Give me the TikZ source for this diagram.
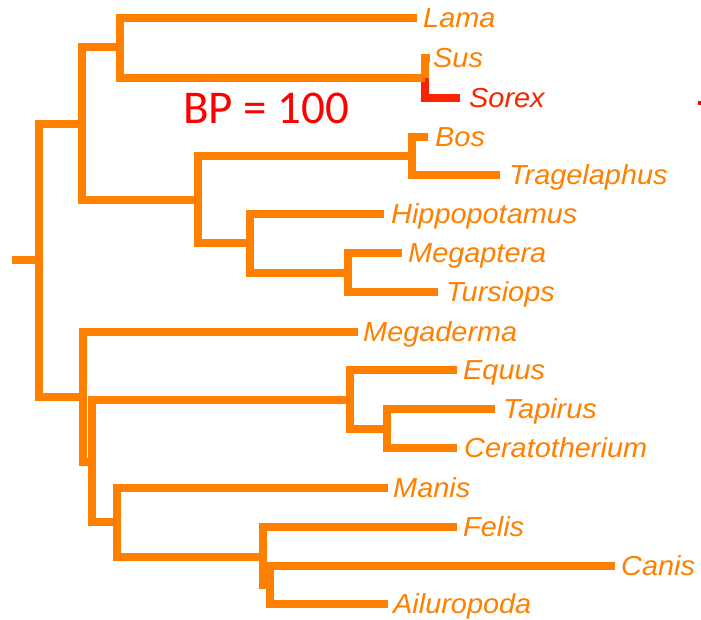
\documentclass[tikz,border=0pt]{standalone}
\usepackage{fontspec}
\setmainfont{Liberation Sans}
\newfontfamily\taxfont[FakeStretch=1.05]{Liberation Sans}
\newfontfamily\bpfont{Carlito}
\definecolor{treeor}{RGB}{255,127,0}
\definecolor{sorexred}{RGB}{250,35,0}
\definecolor{bpred}{RGB}{255,0,0}
\begin{document}
\begin{tikzpicture}[x=1pt,y=-1pt,
  branch/.style={draw=treeor, line width=8pt, line join=miter},
  redbranch/.style={branch, draw=sorexred},
  taxon/.style={font=\taxfont\fontsize{27.5}{28}\selectfont\itshape, text=treeor, anchor=west,
    inner sep=0pt, text height=19.7pt, text depth=0pt},
  redtaxon/.style={taxon, text=sorexred}]
\useasboundingbox (0,0) rectangle (701,619);
% internal nodes
\coordinate (stub) at (12,260);
\coordinate (root) at (39,260);
\coordinate (A) at (82,124);
\coordinate (B) at (120,47);
\coordinate (SS) at (425,78);
\coordinate (C) at (198,200);
\coordinate (D) at (412,156);
\coordinate (E) at (250,243);
\coordinate (F) at (348,273);
\coordinate (G) at (83,397);
\coordinate (H) at (92,462);
\coordinate (I) at (350,400);
\coordinate (K) at (387,429);
\coordinate (J) at (117,522);
\coordinate (L) at (263,557);
\coordinate (M) at (270,585);
% tips
\coordinate (lama) at (417,18);
\coordinate (sus) at (430,58);
\coordinate (sorex) at (460,98);
\coordinate (bos) at (428,137);
\coordinate (trag) at (500,175);
\coordinate (hippo) at (384,214);
\coordinate (megap) at (402,253);
\coordinate (turs) at (438,292);
\coordinate (megad) at (358,332);
\coordinate (equus) at (457,370);
\coordinate (tapir) at (495,409);
\coordinate (cerat) at (457,448);
\coordinate (manis) at (388,488);
\coordinate (felis) at (457,527);
\coordinate (canis) at (615,566);
\coordinate (ailur) at (388,604);
% branches
\draw[redbranch] (SS) |- (sorex);
\draw[branch] (stub) -- (root);
\draw[branch] (root) |- (A);
\draw[branch] (root) |- (G);
\draw[branch] (A) |- (B);
\draw[branch] (A) |- (C);
\draw[branch] (B) |- (lama);
\draw[branch] (B) |- (SS);
\draw[branch] (SS) |- (sus);
\draw[branch] (C) |- (D);
\draw[branch] (C) |- (E);
\draw[branch] (D) |- (bos);
\draw[branch] (D) |- (trag);
\draw[branch] (E) |- (hippo);
\draw[branch] (E) |- (F);
\draw[branch] (F) |- (megap);
\draw[branch] (F) |- (turs);
\draw[branch] (G) |- (megad);
\draw[branch] (G) |- (H);
\draw[branch] (H) |- (I);
\draw[branch] (H) |- (J);
\draw[branch] (I) |- (equus);
\draw[branch] (I) |- (K);
\draw[branch] (K) |- (tapir);
\draw[branch] (K) |- (cerat);
\draw[branch] (J) |- (manis);
\draw[branch] (J) |- (L);
\draw[branch] (L) |- (felis);
\draw[branch] (L) |- (M);
\draw[branch] (M) |- (canis);
\draw[branch] (M) |- (ailur);
% labels
\node[taxon, xshift=6pt] (lamaL) at (lama) {Lama};
\node[taxon, xshift=3pt] (susL) at (sus) {Sus};
\node[redtaxon, xshift=9pt] (sorexL) at (sorex) {Sorex};
\node[taxon, xshift=7pt] (bosL) at (bos) {Bos};
\node[taxon, xshift=9pt] (tragL) at (trag) {Tragelaphus};
\node[taxon, xshift=7pt] (hippoL) at (hippo) {Hippopotamus};
\node[taxon, xshift=6pt] (megapL) at (megap) {Megaptera};
\node[taxon, xshift=8pt] (tursL) at (turs) {Tursiops};
\node[taxon, xshift=5pt] (megadL) at (megad) {Megaderma};
\node[taxon, xshift=6pt] (equusL) at (equus) {Equus};
\node[taxon, xshift=8pt] (tapirL) at (tapir) {Tapirus};
\node[taxon, xshift=7pt] (ceratL) at (cerat) {Ceratotherium};
\node[taxon, xshift=5pt] (manisL) at (manis) {Manis};
\node[taxon, xshift=6pt] (felisL) at (felis) {Felis};
\node[taxon, xshift=6pt] (canisL) at (canis) {Canis};
\node[taxon, xshift=5pt] (ailurL) at (ailur) {Ailuropoda};
\node[anchor=base west, inner sep=0pt, text=bpred, font=\bpfont\fontsize{47}{47}\selectfont] (bp) at (183,123) {BP = 100};
\fill[bpred] (698,101) rectangle (701,105);
\end{tikzpicture}
\end{document}
